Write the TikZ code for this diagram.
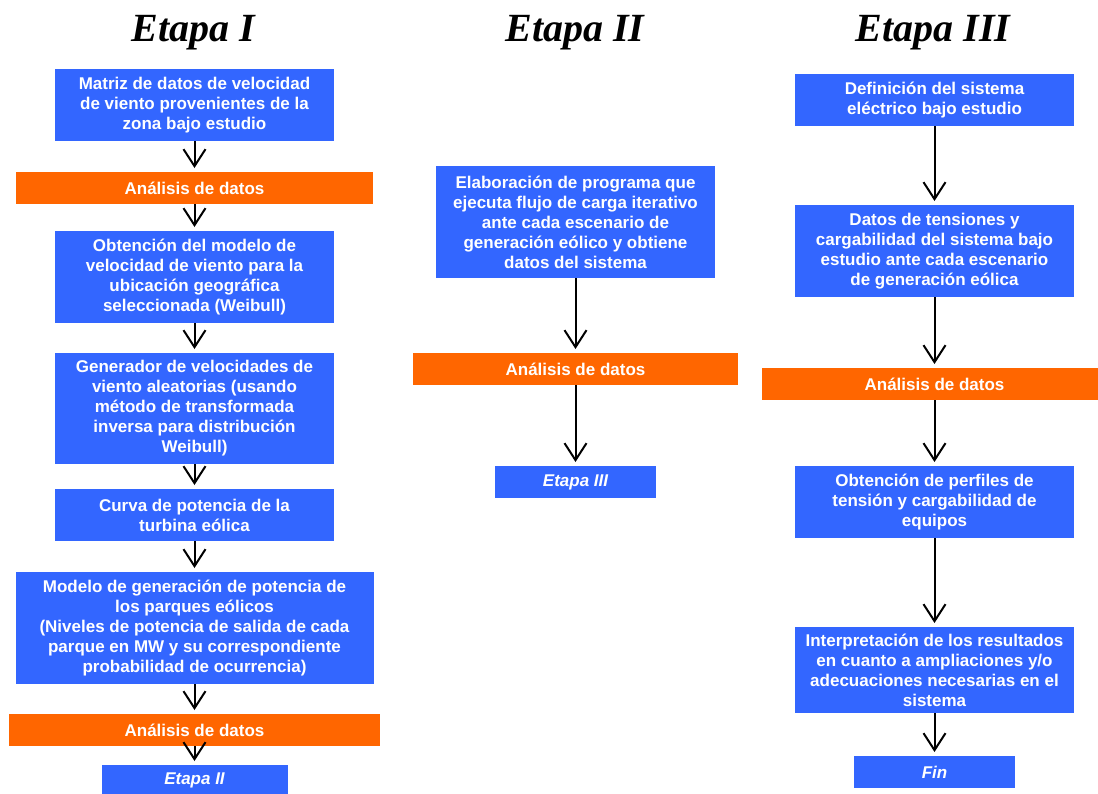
\documentclass[tikz,border=0pt]{standalone}
\usepackage{fontspec}
\setmainfont{Liberation Serif}
\setsansfont{Liberation Sans}
\usetikzlibrary{arrows.meta}
\definecolor{boxblue}{HTML}{3366FF}
\definecolor{boxorange}{HTML}{FF6600}
\tikzset{
  base/.style={inner sep=0pt, outer sep=0pt, text=white, align=center,
    font=\sffamily\bfseries\fontsize{17}{20}\selectfont},
  stepbox/.style={base, fill=boxblue},
  checkbox/.style={base, fill=boxorange},
  linkbox/.style={base, fill=boxblue, font=\sffamily\bfseries\itshape\fontsize{17}{20}\selectfont},
  title/.style={anchor=base, font=\rmfamily\bfseries\itshape\fontsize{40}{44}\selectfont},
  flow/.style={draw=black, line width=2pt, shorten >=4pt,
    -{Straight Barb[length=17pt,width=22pt,line width=2pt]}},
}
\begin{document}
\begin{tikzpicture}[x=1pt,y=-1pt]
\useasboundingbox (0,0) rectangle (1098,793);
\clip (0,0) rectangle (1098,793);

% stage titles
\node[title] (t1) at (193,41) {Etapa I};
\node[title] (t2) at (575,41) {Etapa II};
\node[title] (t3) at (933,41) {Etapa III};

% stage I
\node[stepbox, minimum width=279pt, minimum height=72pt] (m1) at (194.5,105)
  {Matriz de datos de velocidad\\de viento provenientes de la\\zona bajo estudio};
\node[checkbox, minimum width=357pt, minimum height=32pt] (a1) at (194.5,188) {Análisis de datos};
\node[stepbox, minimum width=279pt, minimum height=92pt] (m2) at (194.5,277)
  {Obtención del modelo de\\velocidad de viento para la\\ubicación geográfica\\seleccionada (Weibull)};
\node[stepbox, minimum width=279pt, minimum height=111pt] (m3) at (194.5,408.5)
  {Generador de velocidades de\\viento aleatorias (usando\\método de transformada\\inversa para distribución\\Weibull)};
\node[stepbox, minimum width=279pt, minimum height=52pt] (m4) at (194.5,515)
  {Curva de potencia de la\\turbina eólica};
\node[stepbox, minimum width=358pt, minimum height=112pt] (m5) at (194.5,628)
  {Modelo de generación de potencia de\\los parques eólicos\\(Niveles de potencia de salida de cada\\parque en MW y su correspondiente\\probabilidad de ocurrencia)};
\node[checkbox, minimum width=371pt, minimum height=32pt] (a2) at (194.5,730) {Análisis de datos};
\node[linkbox, minimum width=186pt, minimum height=30pt] (e2) at (194.5,780) {Etapa II};

% stage II
\node[stepbox, minimum width=279pt, minimum height=112pt] (p1) at (575.5,222)
  {Elaboración de programa que\\ejecuta flujo de carga iterativo\\ante cada escenario de\\generación eólico y obtiene\\datos del sistema};
\node[checkbox, minimum width=325pt, minimum height=32pt] (a3) at (575.5,369) {Análisis de datos};
\node[linkbox, minimum width=161pt, minimum height=32pt] (e3) at (575.5,482) {Etapa III};

% stage III
\node[stepbox, minimum width=279pt, minimum height=52pt] (q1) at (934.5,100)
  {Definición del sistema\\eléctrico bajo estudio};
\node[stepbox, minimum width=279pt, minimum height=92pt] (q2) at (934.5,251)
  {Datos de tensiones y\\cargabilidad del sistema bajo\\estudio ante cada escenario\\de generación eólica};
\node[checkbox, minimum width=345pt, minimum height=32pt] (a4) at (934.5,384) {Análisis de datos};
\node[stepbox, minimum width=279pt, minimum height=72pt] (q3) at (934.5,502)
  {Obtención de perfiles de\\tensión y cargabilidad de\\equipos};
\node[stepbox, minimum width=279pt, minimum height=86pt] (q4) at (934.5,670)
  {Interpretación de los resultados\\en cuanto a ampliaciones y/o\\adecuaciones necesarias en el\\sistema};
\node[linkbox, minimum width=161pt, minimum height=32pt] (fin) at (934.5,772) {Fin};

% connectors
\foreach \a/\b in {m1/a1, a1/m2, m2/m3, m3/m4, m4/m5, m5/a2, a2/e2,
                   p1/a3, a3/e3,
                   q1/q2, q2/a4, a4/q3, q3/q4, q4/fin}
  \draw[flow] (\a.south) -- (\b.north);
\end{tikzpicture}
\end{document}
